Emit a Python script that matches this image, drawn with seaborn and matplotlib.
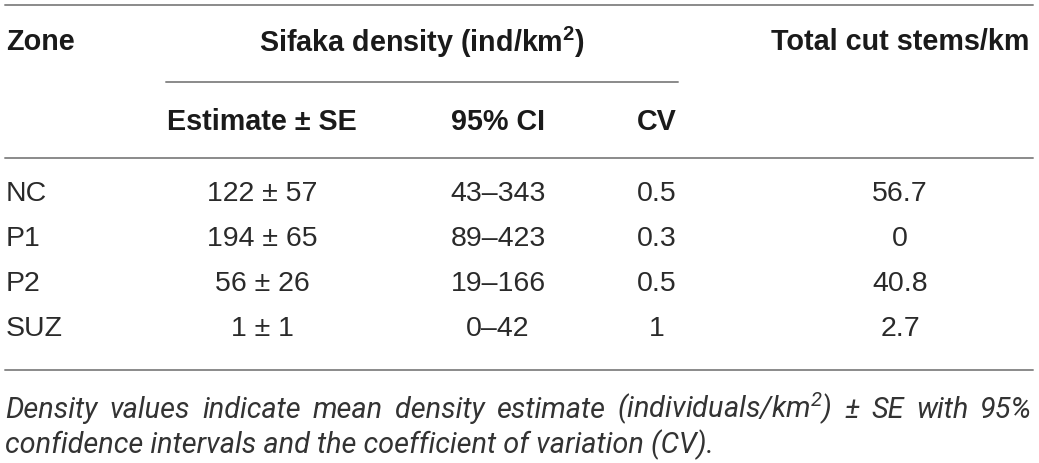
import matplotlib
matplotlib.use('Agg')
import matplotlib.pyplot as plt
import seaborn as sns

# Table contents
zones = ['NC', 'P1', 'P2', 'SUZ']
estimate = [122, 194, 56, 1]
se = [57, 65, 26, 1]
ci_low = [43, 89, 19, 0]
ci_high = [343, 423, 166, 42]
cv = ['0.5', '0.3', '0.5', '1']
cut_stems = ['56.7', '0', '40.8', '2.7']

header_top = ['Zone', 'Sifaka density (ind/km$^2$)', 'Total cut stems/km']
header_sub = ['Estimate \u00b1 SE', '95% CI', 'CV']
footnote = ['Density values indicate mean density estimate (individuals/km$^2$) \u00b1 SE with 95%',
            'confidence intervals and the coefficient of variation (CV).']

sns.set_theme(style='white')
plt.rcParams['font.family'] = ['Liberation Sans', 'DejaVu Sans']
plt.rcParams['mathtext.default'] = 'regular'

fig = plt.figure(figsize=(10.39, 4.63), dpi=100)
ax = fig.add_axes([0, 0, 1, 1])
ax.set_xlim(0, 1039)
ax.set_ylim(463, 0)
ax.axis('off')

line_col = '#8a8a8a'
head_col = '#1a1a1a'
body_col = '#2a2a2a'
fs_head = 20.7
fs_body = 20.5

# rules
ax.plot([5, 1033], [5, 5], color=line_col, lw=1.4)
ax.plot([166, 678], [82, 82], color=line_col, lw=1.4)
ax.plot([5, 1033], [158, 158], color=line_col, lw=1.4)
ax.plot([5, 1033], [370, 370], color=line_col, lw=1.4)

col_x = [262, 498, 657, 900]

# headers
ax.text(6, 42, header_top[0], fontsize=fs_head, fontweight='bold', color=head_col, va='center', ha='left')
ax.text(422, 42, header_top[1], fontsize=fs_head, fontweight='bold', color=head_col, va='center', ha='center')
ax.text(900, 42, header_top[2], fontsize=fs_head, fontweight='bold', color=head_col, va='center', ha='center')
for x, lab in zip(col_x[:3], header_sub):
    ax.text(x, 122, lab, fontsize=fs_head, fontweight='bold', color=head_col, va='center', ha='center')

# body rows
row_y = [194, 239, 284, 329]
for i, y in enumerate(row_y):
    ax.text(6, y, zones[i], fontsize=fs_body, color=body_col, va='center', ha='left')
    ax.text(col_x[0], y, f'{estimate[i]} \u00b1 {se[i]}', fontsize=fs_body, color=body_col, va='center', ha='center')
    ax.text(col_x[1], y, f'{ci_low[i]}\u2013{ci_high[i]}', fontsize=fs_body, color=body_col, va='center', ha='center')
    ax.text(col_x[2], y, cv[i], fontsize=fs_body, color=body_col, va='center', ha='center')
    ax.text(col_x[3], y, cut_stems[i], fontsize=fs_body, color=body_col, va='center', ha='center')

# footnote: first line justified to the table width
fn_kw = dict(fontsize=20.8, style='italic', fontweight='normal',
             family=['Roboto', 'DejaVu Sans'],
             color='#333333', va='baseline', ha='left')
renderer = fig.canvas.get_renderer()
inv = ax.transData.inverted()


def text_width(s):
    t = ax.text(0, 0, s, **fn_kw)
    bb = t.get_window_extent(renderer)
    t.remove()
    x0 = inv.transform((bb.x0, bb.y0))[0]
    x1 = inv.transform((bb.x1, bb.y0))[0]
    return x1 - x0


words = footnote[0].split(' ')
widths = [text_width(w) for w in words]
left, right = 5, 1032
gap = max((right - left - sum(widths)) / (len(words) - 1), 3)
x = left
for w, wd in zip(words, widths):
    ax.text(x, 418, w, **fn_kw)
    x += wd + gap
ax.text(left, 453, footnote[1], **fn_kw)

plt.savefig('out.png', dpi=100)
plt.close()
